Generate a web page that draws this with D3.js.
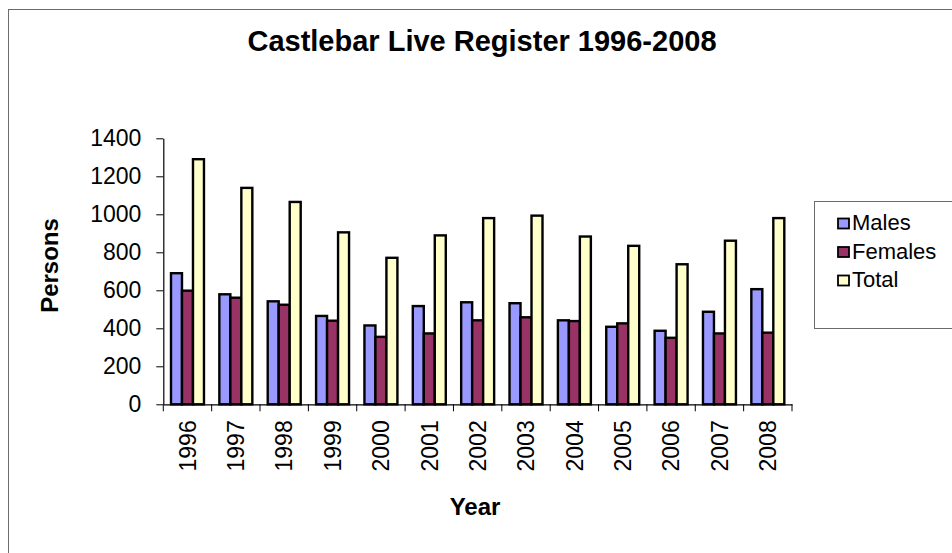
<!DOCTYPE html>
<html>
<head>
<meta charset="utf-8">
<script src="https://cdn.jsdelivr.net/npm/d3@7"></script>
<style>
  html, body { margin: 0; padding: 0; background: #fff; }
  svg { display: block; font-family: Arial, "Liberation Sans", sans-serif; }
</style>
</head>
<body>
<svg id="chart" width="952" height="553"></svg>
<script>
// ---- data ----
const years = ["1996","1997","1998","1999","2000","2001","2002","2003","2004","2005","2006","2007","2008"];
const males   = [690, 579, 542, 465, 415, 517, 537, 532, 442, 408, 387, 487, 606];
const females = [598, 561, 524, 440, 355, 373, 442, 458, 438, 426, 350, 373, 377];
const total   = [1290, 1139, 1065, 905, 771, 889, 980, 993, 883, 834, 737, 861, 980];
const seriesNames = ["Males", "Females", "Total"];
const seriesColors = ["#9999FF", "#993366", "#FFFFCC"];
const yTicks = [0, 200, 400, 600, 800, 1000, 1200, 1400];
const titleText = "Castlebar Live Register 1996-2008";
const yTitle = "Persons";
const xTitle = "Year";

const seriesValues = [males, females, total];

// ---- layout ----
const svg = d3.select("#chart");
svg.append("rect").attr("width", 952).attr("height", 553).attr("fill", "#fff");

// outer chart border (extends past right/bottom edges)
svg.append("rect")
  .attr("x", 8.5).attr("y", 9.5).attr("width", 1000).attr("height", 600)
  .attr("fill", "none").attr("stroke", "#6b6b6b").attr("stroke-width", 1);

const plot = { left: 163.3, right: 792, top: 138.3, bottom: 404.3 };

const x = d3.scaleBand().domain(years).range([plot.left, plot.right]).paddingInner(0).paddingOuter(0);
const xs = d3.scaleBand().domain(seriesNames).range([0, x.bandwidth()]).paddingInner(0).paddingOuter(0.7);
const y = d3.scaleLinear().domain([0, 1400]).range([plot.bottom, plot.top]);

// title
svg.append("text")
  .attr("x", 482).attr("y", 51)
  .attr("text-anchor", "middle")
  .attr("font-size", 29).attr("font-weight", "bold")
  .text(titleText);

// bars
const rows = years.map((yr, i) => ({ year: yr, vals: seriesValues.map((s, k) => ({ name: seriesNames[k], v: s[i], c: seriesColors[k] })) }));
const groups = svg.append("g").selectAll("g").data(rows).join("g")
  .attr("transform", d => `translate(${x(d.year)},0)`);
groups.selectAll("rect").data(d => d.vals).join("rect")
  .attr("x", d => xs(d.name))
  .attr("width", xs.bandwidth())
  .attr("y", d => y(d.v))
  .attr("height", d => y(0) - y(d.v))
  .attr("fill", d => d.c)
  .attr("stroke", "#000")
  .attr("stroke-width", 2.4);

// y axis
const yAxis = d3.axisLeft(y).tickValues(yTicks).tickSize(7).tickSizeOuter(0).tickPadding(15).tickFormat(d3.format("d"));
const gy = svg.append("g").attr("transform", `translate(${plot.left},0)`).call(yAxis);
gy.select(".domain").attr("stroke", "#000").attr("stroke-width", 1.2);
gy.selectAll(".tick line").attr("stroke", "#000").attr("stroke-width", 1);
gy.selectAll(".tick text").attr("font-size", 23).attr("fill", "#000").attr("font-family", "Arial, 'Liberation Sans', sans-serif");

// x axis (labels)
const xAxis = d3.axisBottom(x).tickSize(0).tickSizeOuter(0);
const gx = svg.append("g").attr("transform", `translate(0,${plot.bottom})`).call(xAxis);
gx.select(".domain").attr("stroke", "#000").attr("stroke-width", 1.2);
gx.selectAll(".tick text")
  .attr("font-size", 23).attr("fill", "#000")
  .attr("font-family", "Arial, 'Liberation Sans', sans-serif")
  .attr("text-anchor", "end")
  .attr("transform", "rotate(-90)")
  .attr("x", -16).attr("y", 0).attr("dy", "0.36em");

// x axis boundary ticks
const boundaries = years.map(d => x(d)).concat([x(years[years.length - 1]) + x.bandwidth()]);
svg.append("g").selectAll("line").data(boundaries).join("line")
  .attr("x1", d => d).attr("x2", d => d)
  .attr("y1", plot.bottom).attr("y2", plot.bottom + 7)
  .attr("stroke", "#000").attr("stroke-width", 1);

// axis titles
svg.append("text")
  .attr("transform", "translate(58,265.5) rotate(-90)")
  .attr("text-anchor", "middle")
  .attr("font-size", 24).attr("font-weight", "bold")
  .text(yTitle);
svg.append("text")
  .attr("x", 475).attr("y", 515)
  .attr("text-anchor", "middle")
  .attr("font-size", 24).attr("font-weight", "bold")
  .text(xTitle);

// legend
const lg = svg.append("g");
lg.append("rect")
  .attr("x", 814.5).attr("y", 201.5).attr("width", 200).attr("height", 127)
  .attr("fill", "#fff").attr("stroke", "#6b6b6b").attr("stroke-width", 1);
const ly = d3.scalePoint().domain(seriesNames).range([223.5, 280.5]);
const items = lg.selectAll("g.item").data(seriesNames).join("g").attr("class", "item")
  .attr("transform", d => `translate(0,${ly(d)})`);
items.append("rect")
  .attr("x", 838).attr("y", -5).attr("width", 11).attr("height", 10)
  .attr("fill", (d, i) => seriesColors[i]).attr("stroke", "#000").attr("stroke-width", 1.8);
items.append("text")
  .attr("x", 852).attr("y", 6.5)
  .attr("font-size", 22)
  .text(d => d);
</script>
</body>
</html>
